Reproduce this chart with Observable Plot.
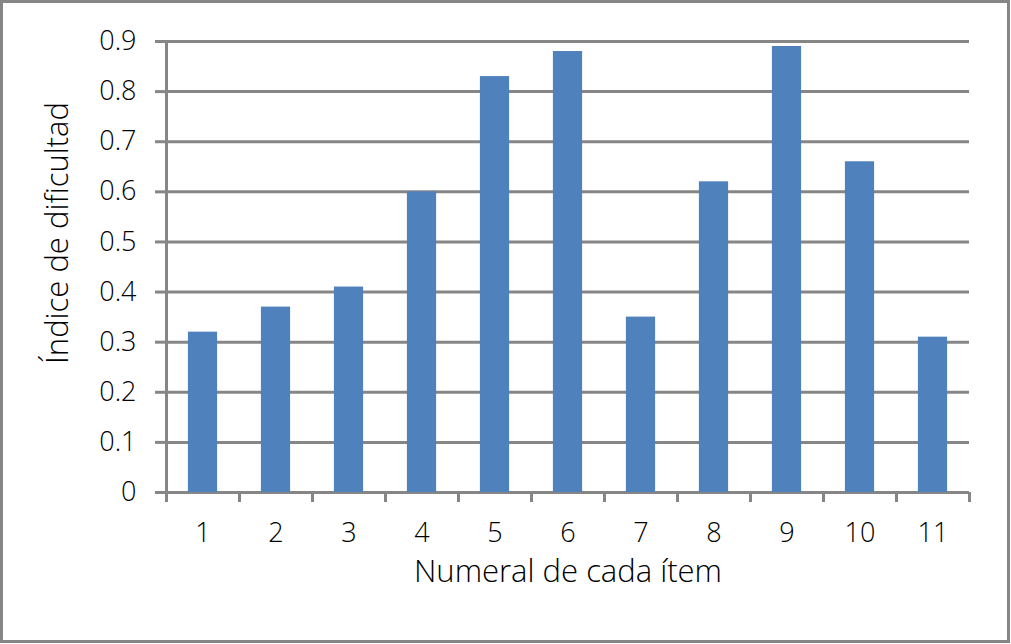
<!DOCTYPE html>
<html>
<head>
<meta charset="utf-8">
<script src="https://cdn.jsdelivr.net/npm/d3@7"></script>
<script src="https://cdn.jsdelivr.net/npm/@observablehq/plot@0.6"></script>
<style>
  html, body { margin: 0; padding: 0; background: #fff; }
  #frame { position: absolute; left: 0; top: 0; width: 1010px; height: 643px; box-sizing: border-box; border: 3px solid #868686; }
  #chart { position: absolute; left: 0; top: 0; }
</style>
</head>
<body>
<div id="frame"></div>
<div id="chart"></div>
<script>
const items = [1, 2, 3, 4, 5, 6, 7, 8, 9, 10, 11];
const values = [0.32, 0.37, 0.41, 0.60, 0.83, 0.88, 0.35, 0.62, 0.89, 0.66, 0.31];
const yTicks = [0, 0.1, 0.2, 0.3, 0.4, 0.5, 0.6, 0.7, 0.8, 0.9];
const xTickLabels = ["1", "2", "3", "4", "5", "6", "7", "8", "9", "10", "11"];
const xTitle = "Numeral de cada ítem";
const yTitle = "Índice de dificultad";

const data = items.map((item, i) => ({item, value: values[i]}));
const boundaries = [items[0] - 0.5, ...items.map(d => d + 0.5)];

const gray = "#868686";
const font = "'Open Sans', sans-serif";
const fsTick = 27;
const fsTitle = 31;

const plot = Plot.plot({
  width: 1011,
  height: 644,
  marginLeft: 166,
  marginRight: 42,
  marginTop: 41,
  marginBottom: 152,
  style: {fontFamily: font, fontSize: fsTick + "px", fontWeight: 300, color: "#000", background: "transparent"},
  x: {type: "linear", domain: [0.5, 11.5]},
  y: {domain: [0, 0.9]},
  marks: [
    Plot.ruleY(yTicks, {stroke: gray, strokeWidth: 3}),
    Plot.rectY(data, {
      x1: d => d.item - 0.5,
      x2: d => d.item + 0.5,
      y: "value",
      fill: "#4F81BD",
      insetLeft: 21.9,
      insetRight: 21.9
    }),
    Plot.ruleX([boundaries[0]], {y1: 0, y2: 0.9, stroke: gray, strokeWidth: 3}),
    Plot.axisY({ticks: yTicks, tickSize: 11, tickPadding: 19, stroke: gray, strokeWidth: 3,
      tickFormat: d => d === 0 ? "0" : d.toFixed(1), label: null, fontSize: fsTick}),
    Plot.axisX({ticks: boundaries, tickSize: 10, tickFormat: () => "", stroke: gray, strokeWidth: 3, label: null}),
    Plot.axisX({ticks: items, tickSize: 0, tickPadding: 30, tickFormat: d => xTickLabels[d - 1], label: null, fontSize: fsTick}),
    Plot.text([xTitle], {frameAnchor: "bottom", dy: 89, fontSize: fsTitle, text: d => d}),
    Plot.text([yTitle], {frameAnchor: "left", textAnchor: "middle", rotate: -90, dx: -108, dy: -34, fontSize: fsTitle, text: d => d})
  ]
});
document.getElementById("chart").appendChild(plot);
</script>
</body>
</html>
